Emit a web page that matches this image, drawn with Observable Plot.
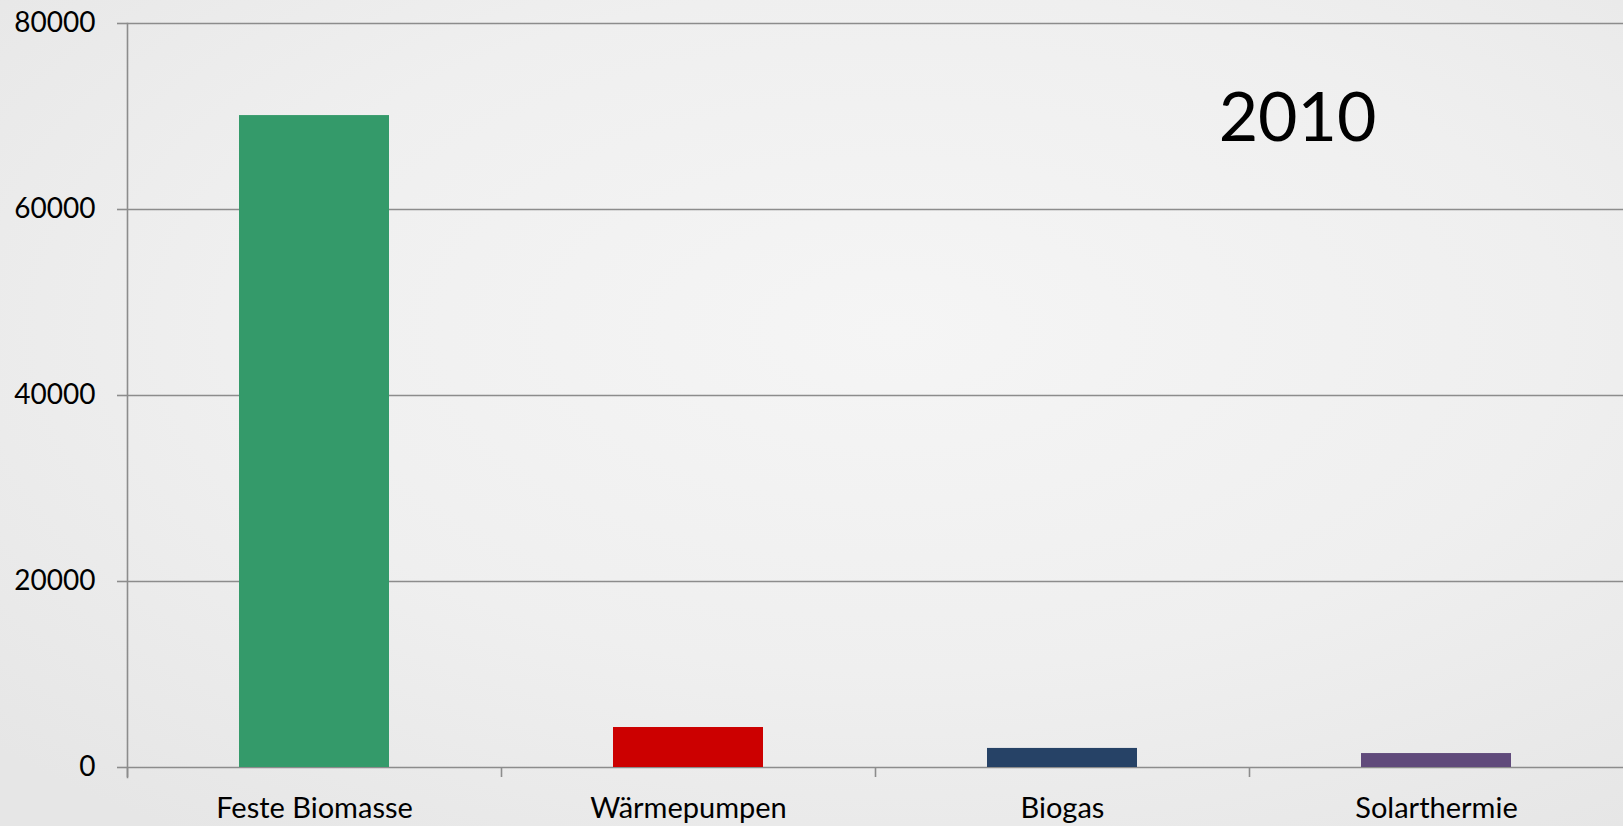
<!DOCTYPE html>
<html>
<head>
<meta charset="utf-8">
<script src="https://cdn.jsdelivr.net/npm/d3@7"></script>
<script src="https://cdn.jsdelivr.net/npm/@observablehq/plot@0.6"></script>
<style>
  html, body { margin: 0; padding: 0; overflow: hidden; }
  body {
    width: 1623px; height: 826px;
    background: radial-gradient(ellipse 75% 75% at 55% 40%, #f5f5f5 0%, #efefef 55%, #e6e6e6 100%);
    font-family: Lato, "Open Sans", sans-serif;
  }
</style>
</head>
<body>
<div id="chart"></div>
<script>
const categories = ["Feste Biomasse", "Wärmepumpen", "Biogas", "Solarthermie"];
const values = [70100, 4300, 2050, 1500];
const colors = ["#349a6a", "#cc0000", "#264266", "#604a7b"];
const yTicks = [0, 20000, 40000, 60000, 80000];
const yearLabel = ["2010"];

const data = categories.map((c, i) => ({category: c, value: values[i], color: colors[i]}));

const W = 1623, H = 826;
const mL = 127, mR = 0, mT = 23, mB = 59;
const step = (W - mL - mR) / categories.length;
const gray = "#8c8c8c";

const chart = Plot.plot({
  width: W,
  height: H,
  marginLeft: mL,
  marginRight: mR,
  marginTop: mT,
  marginBottom: mB,
  style: {background: "transparent", fontFamily: "Lato, 'Open Sans', sans-serif", color: "#000"},
  x: {type: "band", domain: categories, paddingInner: 0.6, paddingOuter: 0.3, align: 0.5, label: null},
  y: {domain: [0, 80000], label: null},
  marks: [
    Plot.gridY(yTicks, {stroke: gray, strokeOpacity: 1, strokeWidth: 1.6}),
    Plot.barY(data, {x: "category", y: "value", fill: "color"}),
    Plot.frame({anchor: "left", stroke: gray, strokeWidth: 1.6, insetBottom: -10}),
    Plot.axisY(yTicks, {tickSize: 10, tickPadding: 22, stroke: gray, strokeWidth: 1.6, fontSize: 28, fill: "#000", tickFormat: d => String(d), label: null}),
    Plot.axisX({tickSize: 10, text: null, dx: -step / 2, stroke: gray, strokeWidth: 1.6, label: null}),
    Plot.axisX({tickSize: 0, tickPadding: 30, fontSize: 29, fill: "#000", label: null}),
    Plot.text(yearLabel, {text: d => d, frameAnchor: "top-right", dx: -(W - 1297), dy: 96, textAnchor: "middle", fontSize: 68, fill: "#000", lineAnchor: "middle"})
  ]
});
document.getElementById("chart").appendChild(chart);
</script>
</body>
</html>
